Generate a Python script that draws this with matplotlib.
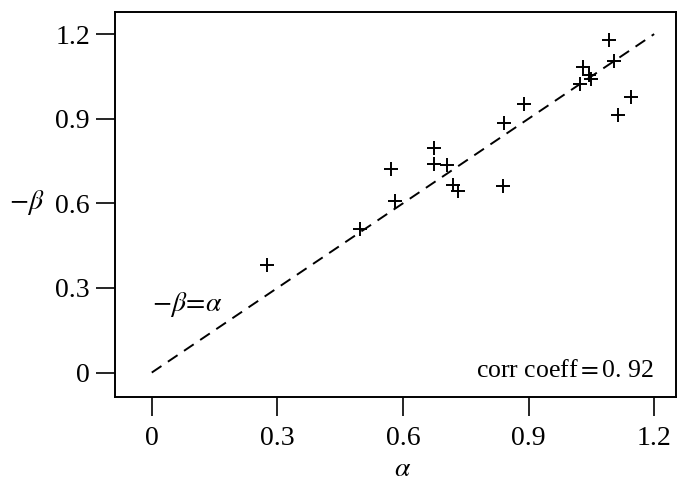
#Scatter of -beta against alpha with the line -beta = alpha.
import matplotlib
matplotlib.use('Agg')
import matplotlib.pyplot as plt
import numpy as np

plt.rcParams['font.family'] = ['Liberation Serif', 'DejaVu Serif']
plt.rcParams['mathtext.fontset'] = 'stix'

alpha = [0.275, 0.498, 0.572, 0.581, 0.675, 0.673, 0.705, 0.720, 0.731,
         0.838, 0.842, 0.890, 1.023, 1.029, 1.045, 1.049, 1.091, 1.103,
         1.113, 1.144]
neg_beta = [0.382, 0.510, 0.722, 0.610, 0.796, 0.739, 0.736, 0.666, 0.644,
            0.662, 0.884, 0.953, 1.023, 1.085, 1.056, 1.041, 1.180, 1.105,
            0.914, 0.977]
line_x = [0.0, 1.2]
ticks = [0, 0.3, 0.6, 0.9, 1.2]
tick_labels = ['0', '0.3', '0.6', '0.9', '1.2']

fs = 20

fig = plt.figure(figsize=(6.8, 4.83), dpi=100)
ax = fig.add_axes([0.169, 0.179, 0.825, 0.796])

ax.plot(line_x, line_x, color='black', lw=1.4, ls=(0, (6, 4)))
ax.plot(alpha, neg_beta, ls='none', marker='+', color='black', ms=10, mew=1.4)

ax.set_xlim(-0.088, 1.252)
ax.set_ylim(-0.085, 1.278)
ax.set_xticks(ticks)
ax.set_xticklabels(tick_labels)
ax.set_yticks(ticks)
ax.set_yticklabels(tick_labels)
ax.tick_params(direction='out', length=14, width=1.2, labelsize=fs)
ax.tick_params(axis='x', pad=7)
ax.tick_params(axis='y', pad=4)
for s in ax.spines.values():
    s.set_linewidth(1.4)

ax.text(0.0, 0.24, r'$-\beta\!=\!\alpha$', fontsize=fs, va='center', ha='left')
ax.text(1.2, -0.014, 'corr coeff$=$0. 92',
        fontsize=18.5, ha='right', va='baseline')

ax.set_ylabel(r'$-\beta$', fontsize=fs, rotation=0, va='center', ha='center')
ax.yaxis.set_label_coords(-0.157, 0.504)
ax.set_xlabel(r'$\alpha$', fontsize=fs, va='center')
ax.xaxis.set_label_coords(0.513, -0.19)

plt.savefig('out.png', dpi=100)
